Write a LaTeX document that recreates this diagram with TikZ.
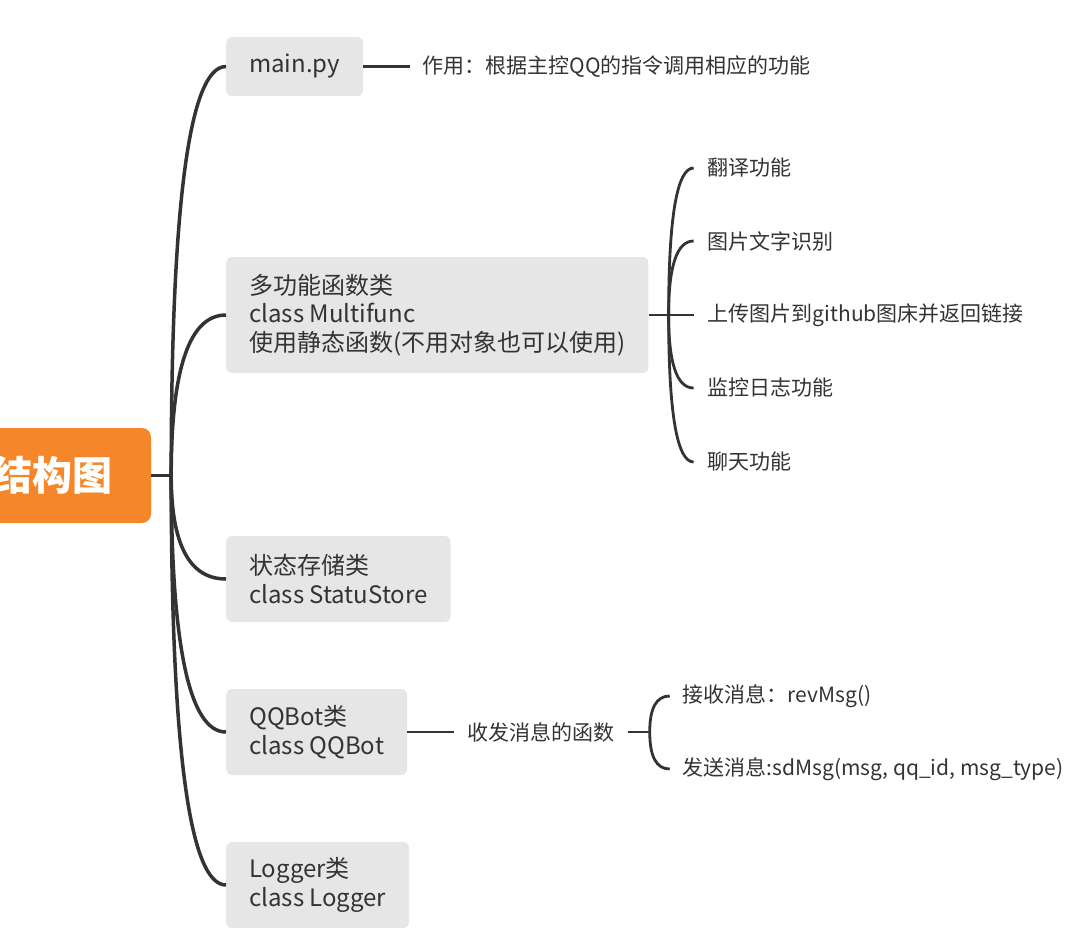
\documentclass[tikz,border=0pt]{standalone}
\usepackage{fontspec}
\setmainfont{Noto Sans CJK SC}
\usetikzlibrary{calc}
\definecolor{orng}{HTML}{F5862A}
\definecolor{boxg}{HTML}{E6E6E6}
\definecolor{ink}{HTML}{333333}
\begin{document}
\begin{tikzpicture}[x=1pt,y=-1pt,
 rootbox/.style={fill=orng, rounded corners=9pt, text=white, font=\fontsize{40}{48}\selectfont\bfseries, minimum width=196pt, minimum height=95pt, inner sep=0pt},
 topic/.style={fill=boxg, rounded corners=6pt, text=ink, font=\fontsize{24}{28.5}\selectfont, align=left, inner xsep=23pt, inner ysep=0pt, anchor=west},
 leaf/.style={text=ink, font=\fontsize{21}{25}\selectfont, anchor=west, inner ysep=0pt},
 trunk/.style={draw=ink, line width=3.5pt},
 twig/.style={draw=ink, line width=2.8pt}]
\useasboundingbox (0,0) rectangle (1077,935);
\node[rootbox] (root) at (53,475.5) {结构图};
\node[topic, minimum height=59pt] (m1) at (226,66.5) {main.py};
\node[topic, minimum height=116pt] (m2) at (226,315) {多功能函数类\\class Multifunc\\使用静态函数(不用对象也可以使用)};
\node[topic, minimum height=86pt] (m3) at (226,579) {状态存储类\\class StatuStore};
\node[topic, minimum height=86pt] (m4) at (226,732) {QQBot类\\class QQBot};
\node[topic, minimum height=86pt] (m5) at (226,885) {Logger类\\class Logger};
\coordinate (j0) at ($(root.east)+(20,0)$);
\draw[trunk] (root.east) -- (j0);
\foreach \n in {m1,m2,m3,m4,m5}{
  \coordinate (k\n) at (j0 |- \n.west);
  \draw[trunk] (j0) .. controls ($(j0)!0.667!(k\n)$) and ($(\n.west)!0.667!(k\n)$) .. (\n.west);
}
% main.py note
\node[leaf, inner xsep=12pt] (t1) at ($(m1.east)+(47,0)$) {作用：根据主控QQ的指令调用相应的功能};
\draw[twig] (m1.east) -- (t1.west);
% multifunc leaves
\coordinate (j2) at ($(m2.east)+(20,0)$);
\node[leaf, inner xsep=14pt] (l1) at ($(j2)+(25,-147)$) {翻译功能};
\node[leaf, inner xsep=14pt] (l2) at ($(j2)+(25,-74)$) {图片文字识别};
\node[leaf, inner xsep=14pt] (l3) at ($(j2)+(25,0)$) {上传图片到github图床并返回链接};
\node[leaf, inner xsep=14pt] (l4) at ($(j2)+(25,73)$) {监控日志功能};
\node[leaf, inner xsep=14pt] (l5) at ($(j2)+(25,147)$) {聊天功能};
\draw[twig] (m2.east) -- (l3.west);
\foreach \n in {l1,l2,l4,l5}{
  \coordinate (k\n) at (j2 |- \n.west);
  \draw[twig] (j2) .. controls ($(j2)!0.667!(k\n)$) and ($(\n.west)!0.667!(k\n)$) .. (\n.west);
}
% QQBot
\node[leaf, inner xsep=13pt] (q0) at ($(m4.east)+(47,0)$) {收发消息的函数};
\draw[twig] (m4.east) -- (q0.west);
\coordinate (j4) at ($(q0.east)+(22,0)$);
\draw[twig] (q0.east) -- (j4);
\node[leaf, inner xsep=13pt] (q1) at ($(j4)+(20,-36)$) {接收消息：revMsg()};
\node[leaf, inner xsep=13pt] (q2) at ($(j4)+(20,37)$) {发送消息:sdMsg(msg, qq\_id, msg\_type)};
\foreach \n in {q1,q2}{
  \coordinate (k\n) at (j4 |- \n.west);
  \draw[twig] (j4) .. controls ($(j4)!0.667!(k\n)$) and ($(\n.west)!0.667!(k\n)$) .. (\n.west);
}
\end{tikzpicture}
\end{document}
